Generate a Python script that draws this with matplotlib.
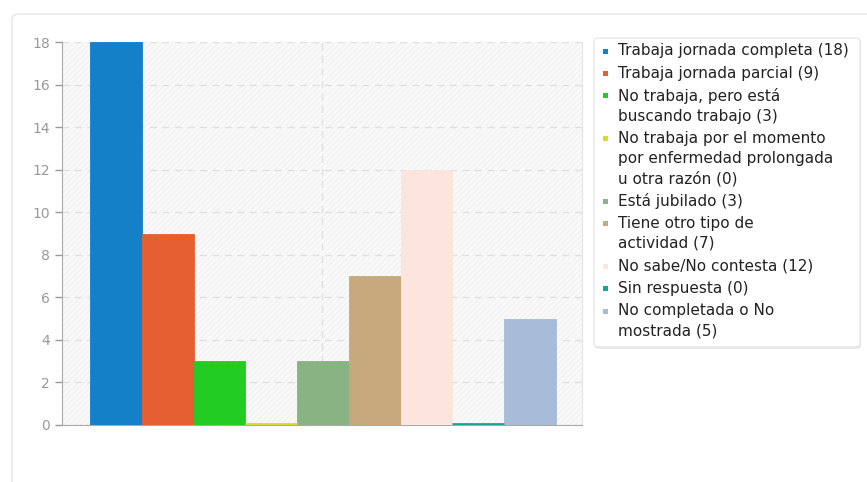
import matplotlib.pyplot as plt
from matplotlib.patches import FancyBboxPatch, Rectangle
import numpy as np

categories = [
    "Trabaja jornada completa",
    "Trabaja jornada parcial",
    "No trabaja, pero está\nbuscando trabajo",
    "No trabaja por el momento\npor enfermedad prolongada\nu otra razón",
    "Está jubilado",
    "Tiene otro tipo de\nactividad",
    "No sabe/No contesta",
    "Sin respuesta",
    "No completada o No\nmostrada",
]
counts = [18, 9, 3, 0, 3, 7, 12, 0, 5]
colors = ['#1380c8', '#e65f33', '#22cc22', '#d8d830', '#88b382',
          '#c8a97e', '#fbe5dd', '#1aa39a', '#a6bcd8']
yticks = [0, 2, 4, 6, 8, 10, 12, 14, 16, 18]

W, H = 867, 482
fig = plt.figure(figsize=(W / 100, H / 100), dpi=100)
fig.patch.set_facecolor('white')
plt.rcParams['hatch.color'] = '#eeeeee'
plt.rcParams['hatch.linewidth'] = 0.6

# outer card
card = FancyBboxPatch((12 / W, -0.1), 1.2, (H - 14) / H + 0.1,
                      boxstyle="round,pad=0,rounding_size=0.01",
                      transform=fig.transFigure, facecolor='white',
                      edgecolor='#e6e6e6', lw=1.0, zorder=-5)
fig.patches.append(card)

ax = fig.add_axes([62 / W, 1 - 425 / H, 520 / W, 383 / H])
ax.set_zorder(5)
ax.set_facecolor('#f9f9f9')
ax.add_patch(Rectangle((0, 0), 1, 1, transform=ax.transAxes, facecolor='none',
                       edgecolor='#efefef', hatch='//////', lw=0, zorder=0))

n = len(counts)
x = np.arange(n)
ax.bar(x, counts, width=1.0, color=colors, edgecolor=colors, lw=0.6, zorder=3)
# zero bars show as a thin line on the baseline
for i, v in enumerate(counts):
    if v == 0:
        ax.plot([i - 0.5, i + 0.5], [0.04, 0.04], color=colors[i], lw=2, zorder=4,
                solid_capstyle='butt')

pad_l = 28 / 51.8
pad_r = 26 / 51.8
ax.set_xlim(-0.5 - pad_l, n - 0.5 + pad_r)
ax.set_ylim(0, 18)
ax.set_yticks(yticks)
ax.set_xticks([])
ax.tick_params(axis='y', colors='#999999', labelsize=10, length=5, width=1)
ax.yaxis.grid(True, color='#e0e0e0', ls=(0, (5, 4)), lw=1, zorder=1)
ax.axvline(np.mean(ax.get_xlim()), color='#e0e0e0', ls=(0, (5, 4)), lw=1, zorder=1)
ax.set_axisbelow(True)

ax.spines['top'].set_visible(False)
ax.spines['right'].set_color('#e4e4e4')
ax.spines['left'].set_color('#aaaaaa')
ax.spines['bottom'].set_color('#aaaaaa')

# legend box
lx0, ly0, lx1, ly1 = 594, 38, 860, 347
shadow = FancyBboxPatch(((lx0 + 1) / W, 1 - (ly1 + 2) / H), (lx1 - lx0) / W, (ly1 - ly0) / H,
                        boxstyle="round,pad=0,rounding_size=0.006",
                        transform=fig.transFigure, facecolor='#e9e9e9',
                        edgecolor='none', zorder=1)
fig.patches.append(shadow)
box = FancyBboxPatch((lx0 / W, 1 - ly1 / H), (lx1 - lx0) / W, (ly1 - ly0) / H,
                     boxstyle="round,pad=0,rounding_size=0.006",
                     transform=fig.transFigure, facecolor='white',
                     edgecolor='#e2e2e2', lw=0.8, zorder=2)
fig.patches.append(box)

line_h = 20
entry_gap = 2.5
y = 51
for label, v, c in zip(categories, counts, colors):
    lines = (label + " (%d)" % v).split("\n")
    fig.patches.append(Rectangle(((605 - 2.5) / W, 1 - (y + 2.5) / H), 5 / W, 5 / H,
                                 transform=fig.transFigure, facecolor=c,
                                 edgecolor='none', zorder=3))
    for ln in lines:
        fig.text(618 / W, 1 - y / H, ln, fontsize=11, color='#222222',
                 va='center', ha='left', zorder=3)
        y += line_h
    y += entry_gap

fig.savefig('out.png', dpi=100)
